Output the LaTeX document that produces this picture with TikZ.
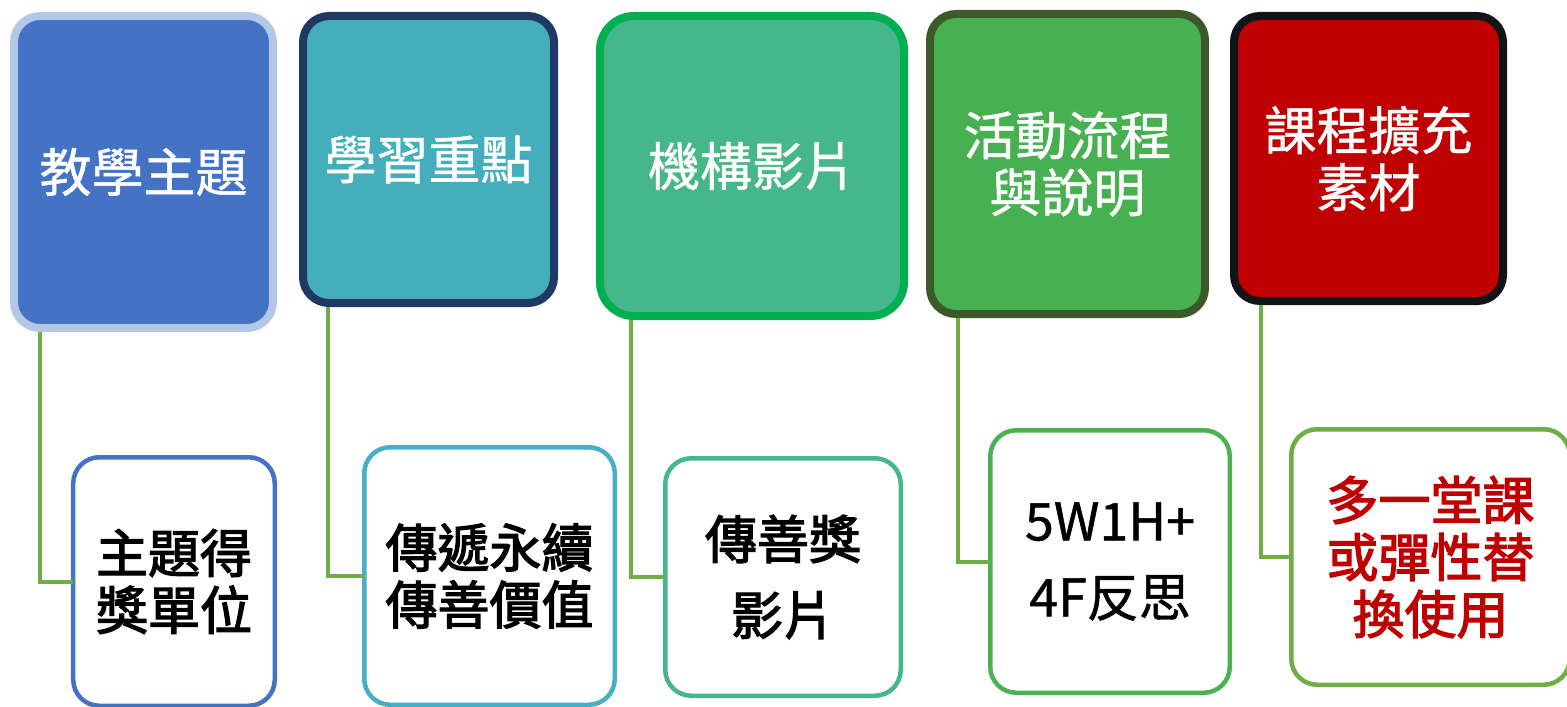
\documentclass[tikz,border=0pt]{standalone}
\usepackage{fontspec}
\newfontfamily\cjk[FakeBold=0.9]{Noto Sans CJK TC}
\newfontfamily\cjkb[FakeBold=2.4]{Noto Sans CJK TC}
\usetikzlibrary{shadows,calc}
\definecolor{aFill}{HTML}{4472C4}\definecolor{aLine}{HTML}{B4C7E7}
\definecolor{bFill}{HTML}{44AEBD}\definecolor{bLine}{HTML}{203864}
\definecolor{cFill}{HTML}{46B68B}\definecolor{cLine}{HTML}{00B050}
\definecolor{dFill}{HTML}{47B152}\definecolor{dLine}{HTML}{3B5A27}
\definecolor{eFill}{HTML}{C00000}\definecolor{eLine}{HTML}{111418}
\definecolor{aSub}{HTML}{4472C4}\definecolor{bSub}{HTML}{47AFC3}
\definecolor{cSub}{HTML}{46B78B}\definecolor{dSub}{HTML}{4CB151}
\definecolor{eSub}{HTML}{70AD47}\definecolor{connC}{HTML}{70AD47}
\definecolor{redT}{HTML}{C00000}
\tikzset{
  topbox/.style={rectangle, rounded corners=26bp, line width=8bp, inner sep=0pt, outer sep=0pt,
    align=center, text=white, font=\cjk\fontsize{52bp}{57bp}\selectfont,
    drop shadow={shadow xshift=0bp, shadow yshift=-4bp, opacity=0.22}},
  subbox/.style={rectangle, rounded corners=26bp, line width=4.5bp, inner sep=0pt, outer sep=0pt,
    align=center, fill=white, text=black, font=\cjkb\fontsize{52bp}{57bp}\selectfont},
  conn/.style={draw=connC, line width=4bp}
}
\begin{document}
\begin{tikzpicture}[x=1bp,y=-1bp]
\useasboundingbox (0,0) rectangle (1567,707);
% top boxes
\node[topbox, draw=aLine, fill=aFill, minimum width=259bp, minimum height=312bp] (t1) at (143.5,172) {教學主題};
\node[topbox, draw=bLine, fill=bFill, minimum width=251bp, minimum height=287bp] (t2) at (428.5,159.5) {學習重點};
\node[topbox, draw=cLine, fill=cFill, rounded corners=34bp, minimum width=304bp, minimum height=300bp] (t3) at (752,166) {機構影片};
\node[topbox, draw=dLine, fill=dFill, minimum width=275bp, minimum height=300bp] (t4) at (1067.5,164) {活動流程\\與說明};
\node[topbox, draw=eLine, fill=eFill, minimum width=269bp, minimum height=285bp] (t5) at (1368.5,158.5) {課程擴充\\素材};
% bottom boxes
\node[subbox, draw=aSub, minimum width=201.5bp, minimum height=248.5bp] (s1) at (174,581.5) {主題得\\獎單位};
\node[subbox, draw=bSub, minimum width=250.5bp, minimum height=257.5bp] (s2) at (489.5,576) {傳遞永續\\傳善價值};
\node[subbox, draw=cSub, minimum width=235.5bp, minimum height=237.5bp, font=\cjkb\fontsize{52bp}{76bp}\selectfont] (s3) at (783,577) {傳善獎\\影片};
\node[subbox, draw=dSub, minimum width=239.5bp, minimum height=262.5bp, font=\cjk\fontsize{52bp}{76bp}\selectfont] (s4) at (1110,561.5) {5W1H+\\4F反思};
\node[subbox, draw=eSub, text=redT, minimum width=278.5bp, minimum height=255.5bp] (s5) at (1430.5,557) {多一堂課\\或彈性替\\換使用};
% connectors
\draw[conn] ([xshift=26bp,yshift=-4bp]t1.south west) |- (s1.west);
\draw[conn] ([xshift=25bp,yshift=-4bp]t2.south west) |- (s2.west);
\draw[conn] ([xshift=31bp,yshift=-4bp]t3.south west) |- (s3.west);
\draw[conn] ([xshift=28bp,yshift=-4bp]t4.south west) |- (s4.west);
\draw[conn] ([xshift=27bp,yshift=-4bp]t5.south west) |- (s5.west);
\end{tikzpicture}
\end{document}
